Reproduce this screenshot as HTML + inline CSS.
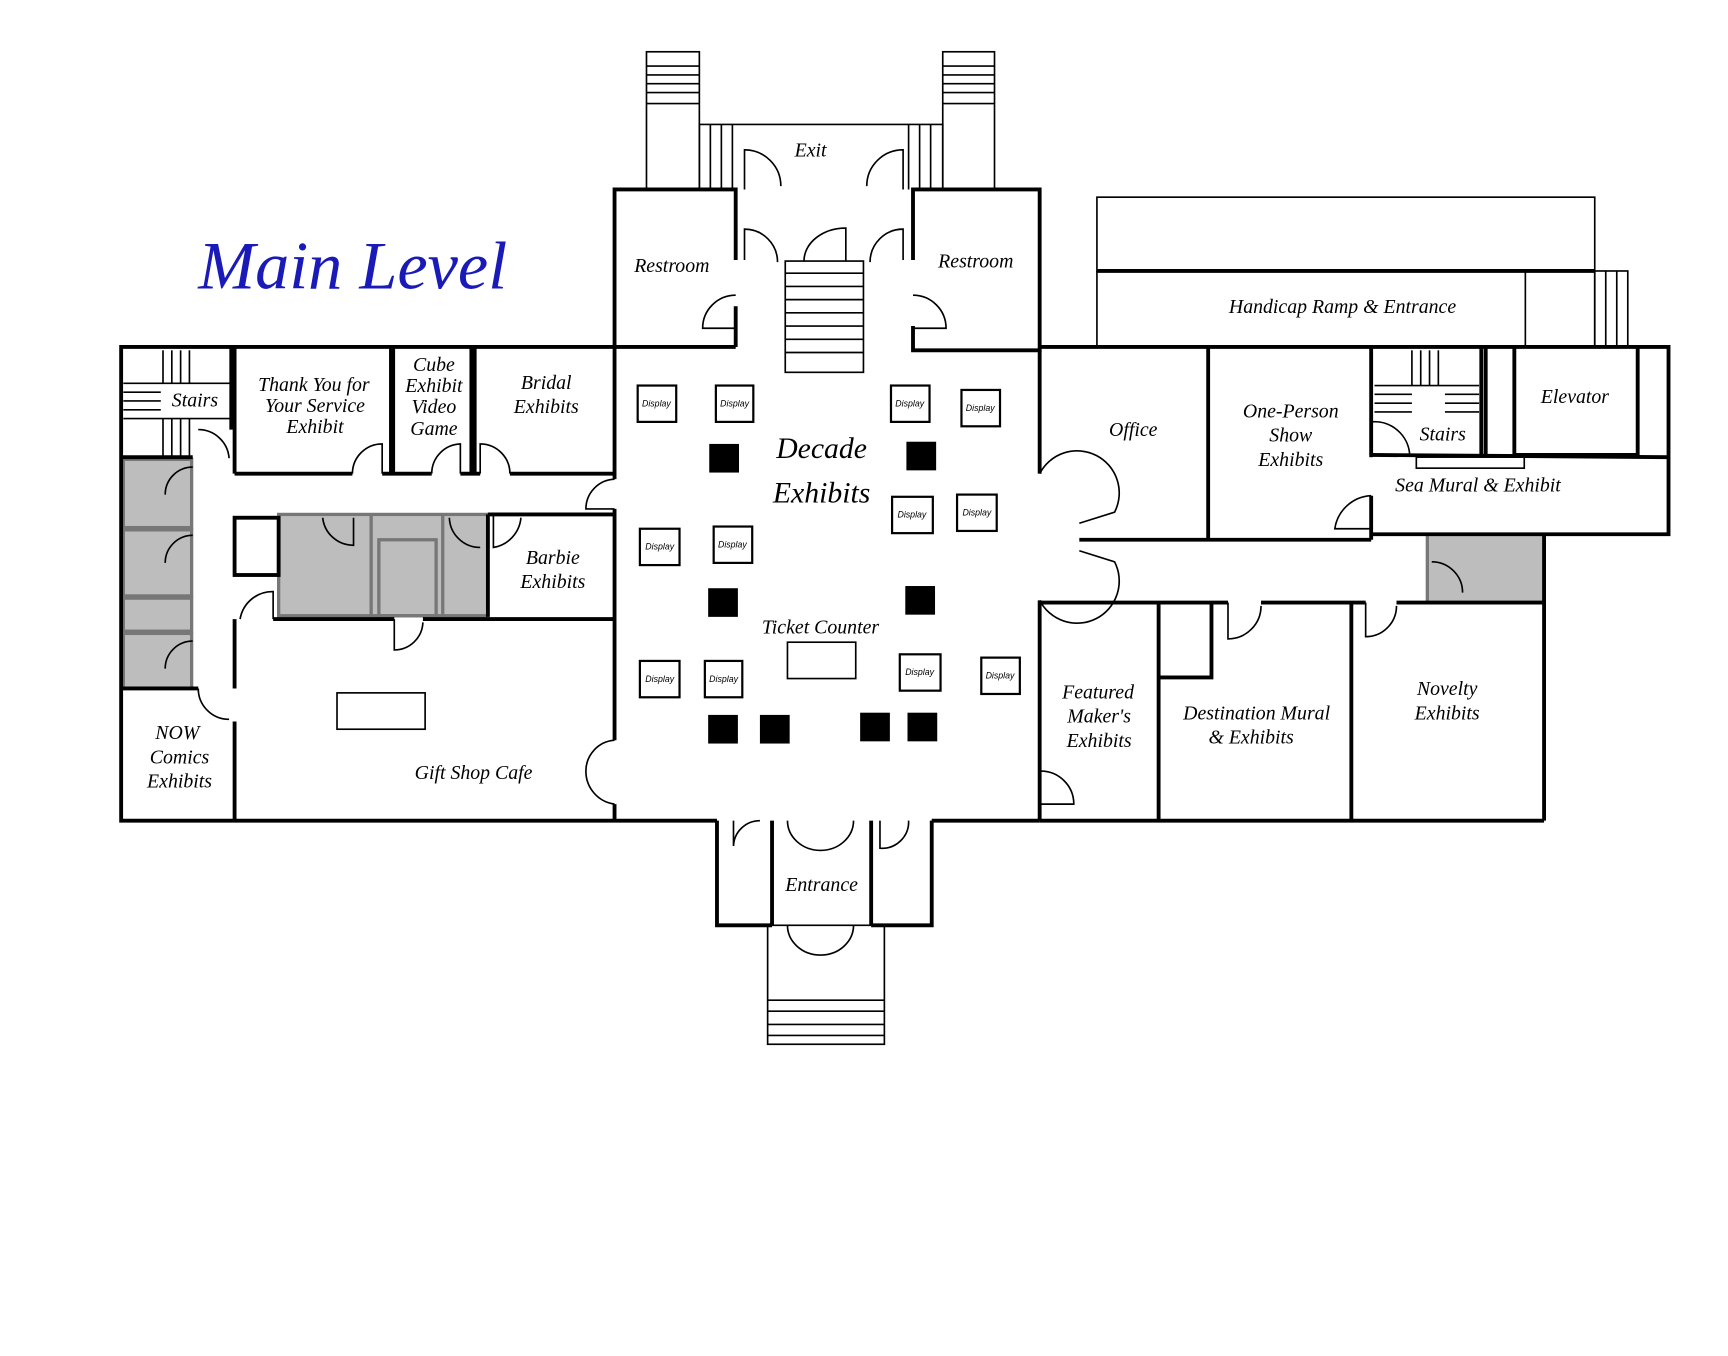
<!DOCTYPE html>
<html><head><meta charset="utf-8"><style>html,body{margin:0;padding:0;background:#fff}svg{display:block}</style></head><body>
<svg width="1728" height="1356" viewBox="0 0 1569 1231" preserveAspectRatio="none" xmlns="http://www.w3.org/2000/svg">
<g fill="none" stroke="#000">
<g stroke-width="1.5">
<rect x="587" y="47" width="48" height="125"/><line x1="587" y1="60" x2="635" y2="60"/><line x1="587" y1="68" x2="635" y2="68"/><line x1="587" y1="76" x2="635" y2="76"/><line x1="587" y1="84" x2="635" y2="84"/><line x1="587" y1="94" x2="635" y2="94"/>
<rect x="856" y="47" width="47" height="125"/><line x1="856" y1="60" x2="903" y2="60"/><line x1="856" y1="68" x2="903" y2="68"/><line x1="856" y1="76" x2="903" y2="76"/><line x1="856" y1="84" x2="903" y2="84"/><line x1="856" y1="94" x2="903" y2="94"/>
<polyline points="635,172 635,113 856,113 856,172"/>
<line x1="645" y1="113" x2="645" y2="172"/><line x1="655" y1="113" x2="655" y2="172"/><line x1="665" y1="113" x2="665" y2="172"/>
<line x1="825" y1="113" x2="825" y2="172"/><line x1="835" y1="113" x2="835" y2="172"/><line x1="845" y1="113" x2="845" y2="172"/>
<rect x="713" y="237" width="71" height="101"/>
<line x1="713" y1="248" x2="784" y2="248"/><line x1="713" y1="260" x2="784" y2="260"/><line x1="713" y1="272" x2="784" y2="272"/><line x1="713" y1="284" x2="784" y2="284"/><line x1="713" y1="296" x2="784" y2="296"/><line x1="713" y1="308" x2="784" y2="308"/><line x1="713" y1="320" x2="784" y2="320"/>
<rect x="996" y="179" width="452" height="67"/>
<polyline points="996,246 996,315"/><rect x="1385" y="246" width="63" height="69"/>
<rect x="1448" y="246" width="30" height="69"/><line x1="1458" y1="246" x2="1458" y2="315"/><line x1="1468" y1="246" x2="1468" y2="315"/>
<rect x="697" y="840" width="106" height="108"/><line x1="697" y1="908" x2="803" y2="908"/><line x1="697" y1="918" x2="803" y2="918"/><line x1="697" y1="930" x2="803" y2="930"/><line x1="697" y1="940" x2="803" y2="940"/>
<line x1="148" y1="318" x2="148" y2="348"/><line x1="156" y1="318" x2="156" y2="348"/><line x1="164" y1="318" x2="164" y2="348"/><line x1="172" y1="318" x2="172" y2="348"/>
<line x1="112" y1="348" x2="210" y2="348"/><line x1="112" y1="356" x2="146" y2="356"/><line x1="112" y1="364" x2="146" y2="364"/><line x1="112" y1="372" x2="146" y2="372"/><line x1="112" y1="380" x2="210" y2="380"/>
<line x1="148" y1="380" x2="148" y2="415"/><line x1="156" y1="380" x2="156" y2="415"/><line x1="164" y1="380" x2="164" y2="415"/><line x1="172" y1="380" x2="172" y2="415"/>
<line x1="1282" y1="318" x2="1282" y2="350"/><line x1="1290" y1="318" x2="1290" y2="350"/><line x1="1298" y1="318" x2="1298" y2="350"/><line x1="1306" y1="318" x2="1306" y2="350"/>
<line x1="1248" y1="350" x2="1343" y2="350"/><line x1="1248" y1="358" x2="1282" y2="358"/><line x1="1248" y1="366" x2="1282" y2="366"/><line x1="1248" y1="374" x2="1282" y2="374"/>
<line x1="1312" y1="358" x2="1343" y2="358"/><line x1="1312" y1="366" x2="1343" y2="366"/><line x1="1312" y1="374" x2="1343" y2="374"/>
<rect x="1286" y="415" width="98" height="10"/>
<rect x="306" y="629" width="80" height="33"/>
<rect x="715" y="583" width="62" height="33"/>
</g>
<g fill="#bdbdbd" stroke="#777" stroke-width="3">
<rect x="112" y="417" width="62" height="62"/><rect x="112" y="481" width="62" height="60"/><rect x="112" y="543" width="62" height="30"/><rect x="112" y="575" width="62" height="50"/>
<rect x="253" y="467" width="190" height="92"/>
<rect x="1296" y="485" width="106" height="62"/>
</g>
<g stroke="#777" stroke-width="3"><line x1="337" y1="467" x2="337" y2="559"/><line x1="402" y1="467" x2="402" y2="559"/><rect x="344" y="490" width="52" height="69"/></g>
<g stroke-width="3.5">
<polyline points="558,315 110,315 110,745 558,745"/>
<polyline points="558,315 558,172 668,172 668,236"/>
<line x1="668" y1="278" x2="668" y2="315"/>
<line x1="558" y1="315" x2="668" y2="315"/>
<polyline points="829,236 829,172 944,172 944,318 829,318 829,296"/>
<polyline points="558,315 558,435"/><line x1="558" y1="462" x2="558" y2="672"/><line x1="558" y1="730" x2="558" y2="745"/>
<line x1="558" y1="745" x2="651" y2="745"/><line x1="846" y1="745" x2="944" y2="745"/>
<polyline points="651,745 651,840 701,840"/><polyline points="846,745 846,840 791,840"/>
<line x1="701" y1="745" x2="701" y2="840"/><line x1="791" y1="745" x2="791" y2="840"/>
<line x1="944" y1="318" x2="944" y2="430"/><line x1="944" y1="545" x2="944" y2="745"/>
<polyline points="944,315 1515,315 1515,485 1245,485"/>
<line x1="944" y1="745" x2="1402" y2="745"/><line x1="1402" y1="485" x2="1402" y2="745"/>
<line x1="996" y1="246" x2="1448" y2="246"/>
<line x1="1097" y1="315" x2="1097" y2="490"/><line x1="980" y1="490" x2="1245" y2="490"/>
<line x1="1245" y1="315" x2="1245" y2="415"/><line x1="1245" y1="450" x2="1245" y2="490"/>
<line x1="1345" y1="315" x2="1345" y2="413"/><line x1="1349" y1="315" x2="1349" y2="413"/>
<polyline points="1375,315 1375,413 1487,413 1487,315"/><line x1="1245" y1="413" x2="1515" y2="415"/>
<polyline points="944,547 1115,547"/><line x1="1145" y1="547" x2="1240" y2="547"/><line x1="1268" y1="547" x2="1402" y2="547"/>
<line x1="1052" y1="547" x2="1052" y2="745"/><line x1="1227" y1="547" x2="1227" y2="745"/>
<polyline points="1052,615 1100,615 1100,547"/>
<line x1="110" y1="415" x2="175" y2="415"/><line x1="210" y1="315" x2="210" y2="390"/>
<line x1="213" y1="315" x2="213" y2="430"/><line x1="355" y1="315" x2="355" y2="430"/><line x1="357" y1="315" x2="357" y2="430"/><line x1="428" y1="315" x2="428" y2="430"/><line x1="431" y1="315" x2="431" y2="430"/>
<line x1="213" y1="430" x2="320" y2="430"/><line x1="347" y1="430" x2="392" y2="430"/><line x1="418" y1="430" x2="436" y2="430"/><line x1="463" y1="430" x2="558" y2="430"/>
<rect x="213" y="470" width="40" height="52"/>
<line x1="443" y1="467" x2="558" y2="467"/><line x1="443" y1="467" x2="443" y2="560"/>
<line x1="248" y1="562" x2="358" y2="562"/><line x1="384" y1="562" x2="558" y2="562"/>
<line x1="213" y1="562" x2="213" y2="625"/><line x1="213" y1="655" x2="213" y2="745"/>
<line x1="110" y1="625" x2="180" y2="625"/>
</g>
<g stroke-width="1.5">
<path d="M676,172 V136 A33,33 0 0 1 709,169"/><path d="M820,172 V136 A33,33 0 0 0 787,169"/>
<path d="M676,236 V208 A30,30 0 0 1 706,238"/><path d="M820,236 V208 A30,30 0 0 0 790,238"/>
<path d="M730,237 A38,30 0 0 1 768,207 V237"/>
<path d="M668,268 A30,30 0 0 0 638,298 H668"/><path d="M829,268 A30,30 0 0 1 859,298 H829"/>
<path d="M558,435 A27,27 0 0 0 532,462 H558"/><path d="M558,672 A28,28 0 0 0 532,700 A30,30 0 0 0 558,730"/>
<path d="M944,430 A35,35 0 0 1 1012,465 L980,475"/><path d="M980,500 L1012,510 A35,35 0 0 1 944,545"/>
<path d="M944,700 A30,30 0 0 1 975,730 H944"/>
<path d="M666,745 V768 A24,24 0 0 1 690,745"/><path d="M715,745 A30,27 0 0 0 745,772 A30,27 0 0 0 775,745"/><path d="M825,745 A24,24 0 0 1 799,770 V745"/>
<path d="M715,840 A30,27 0 0 0 745,867 A30,27 0 0 0 775,840"/>
<path d="M180,390 A28,28 0 0 1 208,416"/><path d="M320,430 A27,27 0 0 1 347,403 V430"/><path d="M392,430 A27,27 0 0 1 418,403 V430"/><path d="M436,430 V403 A27,27 0 0 1 463,430"/>
<path d="M448,467 V497 A30,30 0 0 0 473,470"/>
<path d="M218,562 A30,30 0 0 1 248,537 V562"/><path d="M358,562 V590 A26,26 0 0 0 384,565"/>
<path d="M180,625 A28,28 0 0 0 208,653"/>
<path d="M175,424 A25,25 0 0 0 150,449"/><path d="M175,486 A25,25 0 0 0 150,511"/><path d="M175,582 A25,25 0 0 0 150,607"/>
<path d="M293,470 A28,28 0 0 0 321,495 V470"/><path d="M408,470 A28,28 0 0 0 436,497"/>
<path d="M1245,415 V383 A32,32 0 0 1 1280,413"/><path d="M1245,450 A35,35 0 0 0 1212,480 H1245"/>
<path d="M1115,547 V580 A30,30 0 0 0 1145,550"/><path d="M1240,547 V578 A28,28 0 0 0 1268,550"/>
<path d="M1300,510 A28,28 0 0 1 1328,538"/>
</g>
<g stroke-width="2">
<rect x="579" y="350" width="35" height="33"/><rect x="650" y="350" width="34" height="33"/><rect x="809" y="350" width="35" height="33"/><rect x="873" y="354" width="35" height="33"/>
<rect x="810" y="451" width="37" height="33"/><rect x="869" y="449" width="36" height="33"/>
<rect x="581" y="480" width="36" height="33"/><rect x="648" y="478" width="35" height="33"/>
<rect x="581" y="600" width="36" height="33"/><rect x="640" y="600" width="34" height="33"/><rect x="817" y="594" width="37" height="33"/><rect x="891" y="597" width="35" height="33"/>
</g>
</g>
<g fill="#000">
<rect x="644" y="403" width="27" height="26"/><rect x="823" y="401" width="27" height="26"/>
<rect x="643" y="534" width="27" height="26"/><rect x="822" y="532" width="27" height="26"/>
<rect x="643" y="649" width="27" height="26"/><rect x="690" y="649" width="27" height="26"/><rect x="781" y="647" width="27" height="26"/><rect x="824" y="647" width="27" height="26"/>
</g>
<g font-family="Liberation Sans, sans-serif" font-size="8" font-style="italic" text-anchor="middle">
<text x="596" y="369">Display</text><text x="667" y="369">Display</text><text x="826" y="369">Display</text><text x="890" y="373">Display</text>
<text x="828" y="470">Display</text><text x="887" y="468">Display</text><text x="599" y="499">Display</text><text x="665" y="497">Display</text>
<text x="599" y="619">Display</text><text x="657" y="619">Display</text><text x="835" y="613">Display</text><text x="908" y="616">Display</text>
</g>
<text x="180" y="262" font-family="Liberation Serif, serif" font-style="italic" font-size="62" fill="#1a1ab8">Main Level</text>
<g font-family="Liberation Serif, serif" font-style="italic" font-size="18" text-anchor="middle" fill="#000">
<text x="736" y="142">Exit</text><text x="610" y="247">Restroom</text><text x="886" y="243">Restroom</text>
<text x="1219" y="284">Handicap Ramp &amp; Entrance</text>
<text x="177" y="369">Stairs</text>
<text x="285" y="355">Thank You for</text><text x="286" y="374">Your Service</text><text x="286" y="393">Exhibit</text>
<text x="394" y="337">Cube</text><text x="394" y="356">Exhibit</text><text x="394" y="375">Video</text><text x="394" y="395">Game</text>
<text x="496" y="353">Bridal</text><text x="496" y="375">Exhibits</text>
<text x="502" y="512">Barbie</text><text x="502" y="534">Exhibits</text>
<text x="161" y="671">NOW</text><text x="163" y="693">Comics</text><text x="163" y="715">Exhibits</text>
<text x="430" y="707">Gift Shop Cafe</text>
<text x="746" y="416" font-size="27">Decade</text><text x="746" y="456" font-size="27">Exhibits</text>
<text x="745" y="575">Ticket Counter</text>
<text x="746" y="809">Entrance</text>
<text x="1029" y="396">Office</text>
<text x="1172" y="379">One-Person</text><text x="1172" y="401">Show</text><text x="1172" y="423">Exhibits</text>
<text x="1310" y="400">Stairs</text><text x="1430" y="366">Elevator</text>
<text x="1342" y="446">Sea Mural &amp; Exhibit</text>
<text x="997" y="634">Featured</text><text x="998" y="656">Maker's</text><text x="998" y="678">Exhibits</text>
<text x="1141" y="653">Destination Mural</text><text x="1136" y="675">&amp; Exhibits</text>
<text x="1314" y="631">Novelty</text><text x="1314" y="653">Exhibits</text>
</g>
</svg>
</body></html>
